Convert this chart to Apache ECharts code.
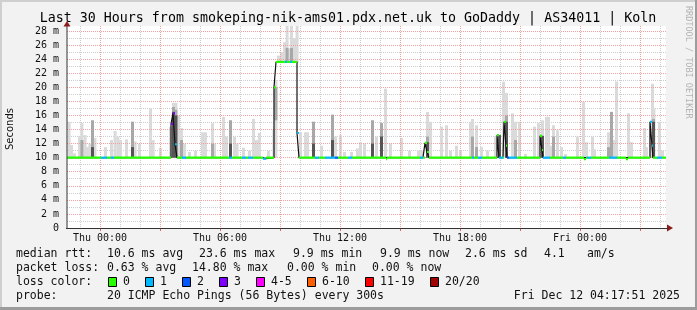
<!DOCTYPE html>
<html><head><meta charset="utf-8">
<script src="https://cdn.jsdelivr.net/npm/echarts@6/dist/echarts.min.js"></script>
<style>html,body{margin:0;padding:0;background:#f2f2f2}#c{width:697px;height:310px}</style>
</head><body><div id="c"></div>
<script>
// ---------- data (hours relative to Thu 00:00) ----------
const titleText = 'Last 30 Hours from smokeping-nik-ams01.pdx.net.uk to GoDaddy | AS34011 | Koln';
const xLabelHours = [0, 6, 12, 18, 24];
const xLabelTexts = ['Thu 00:00', 'Thu 06:00', 'Thu 12:00', 'Thu 18:00', 'Fri 00:00'];
const xMajorHours = [0, 3, 6, 9, 12, 15, 18, 21, 24, 27];
const xMinorHours = [-1, 1, 2, 4, 5, 7, 8, 10, 11, 13, 14, 16, 17, 19, 20, 22, 23, 25, 26, 28];
const yMajorMs = [0, 2, 4, 6, 8, 10, 12, 14, 16, 18, 20, 22, 24, 26, 28];
const yMinorMs = [1, 3, 5, 7, 9, 11, 13, 15, 17, 19, 21, 23, 25, 27];

// smoke columns: [hour, low ms, high ms]
const smokeLight = [
  [-1.62,10,15.1],[-1.5,10,11.8],[-1.35,10,10.6],[-1.1,10,13.0],[-0.98,10,14.9],[-0.82,10,13.2],[-0.7,10,11.5],
  [-0.58,10,12.0],[-0.45,10,15.3],[-0.33,10,12.8],[0.2,10,11.5],[0.5,10,12.5],[0.68,10,13.8],[0.82,10,13.0],
  [0.95,10,12.5],[1.25,10,12.6],[1.55,10,15.1],[1.68,10,12.3],[1.9,10,12.0],[2.45,10,17.0],[2.58,10,12.5],
  [2.95,10,11.4],[3.45,10,14.4],[3.6,10,17.8],[3.72,10,17.8],[3.85,10,16.0],[4.0,10,14.2],[4.15,10,12.0],
  [4.4,10,10.8],[4.7,10,11.0],[5.05,10,13.6],[5.2,10,13.6],[5.55,10,14.9],[5.65,10,12.0],[6.1,10,15.8],
  [6.25,10,13.0],[6.45,10,15.3],[6.65,10,13.0],[6.78,10,12.0],[7.1,10,11.4],[7.4,10,11.0],[7.6,10,15.5],
  [7.75,10,12.5],[7.9,10,13.5],[8.35,10,11.0],[8.62,10,14.0],[8.72,10,21.0],
  [8.85,23.5,24.5],[9.0,23.5,25.0],[9.15,23.5,26.4],[9.28,23.5,29],[9.4,23.5,25.5],[9.5,23.5,29],
  [9.65,23.5,27.0],[9.78,23.5,29],
  [9.95,10,13.6],[10.2,10,13.6],[10.3,10,13.6],[10.6,10,15.1],[11.0,10,11.7],[11.55,10,16.1],[11.7,10,13.0],
  [11.95,10,13.2],[12.15,10,10.8],[12.5,10,10.8],[12.8,10,11.3],[12.95,10,12.2],[13.15,10,12.0],[13.55,10,15.3],
  [13.75,10,13.0],[14.0,10,14.9],[14.2,10,19.8],[14.45,10,12.0],[15.0,10,12.8],[15.4,10,11.0],[15.85,10,11.0],
  [16.0,10,11.0],[16.3,10,16.5],[16.45,10,15.1],[17.0,10,14.4],[17.25,10,14.6],[17.45,10,11.0],[17.75,10,11.7],
  [17.95,10,11.0],[18.45,10,15.1],[18.55,10,15.5],[18.75,10,14.6],[19.0,10,11.5],[19.3,10,11.0],[19.7,10,13.0],
  [19.9,10,13.2],[20.1,10,20.8],[20.25,10,19.2],[20.55,10,16.3],[20.7,10,15.1],[20.9,10,15.1],[21.2,10,10.5],
  [21.65,10,14.4],[21.85,10,14.9],[22.05,10,15.3],[22.25,10,15.8],[22.35,10,15.8],[22.5,10,11.7],[22.6,10,14.6],
  [22.8,10,13.9],[23.0,10,11.5],[23.2,10,10.5],[23.8,10,13.0],[24.1,10,17.9],[24.25,10,12.2],[24.55,10,13.0],
  [24.65,10,11.2],[25.35,10,13.6],[25.5,10,16.5],[25.6,10,12.5],[25.75,10,20.8],[26.35,10,16.3],[26.5,10,12.2],
  [27.15,10,14.2],[27.25,10,11.5],[27.45,10,15.1],[27.55,10,20.5],[27.62,10,17.0],[27.9,10,15.1],[28.05,10,11.0]
];
const smokeMid = [
  [-0.98,10,12.5],[-0.45,10,15.3],[1.55,10,15.1],[3.6,10,17.2],[3.72,10,16.8],[4.0,10,12.5],[5.55,10,12.0],
  [6.45,10,15.3],[8.72,15.3,20.0],[9.28,23.5,25.6],[9.5,23.5,25.6],[10.6,10,15.1],[11.55,10,16.1],
  [13.55,10,15.3],[14.0,10,14.9],[16.3,10,13.0],[18.55,10,13.0],[18.75,10,11.5],[19.9,10,12.0],
  [20.25,10,16.0],[20.7,10,12.5],[22.05,10,12.0],[22.6,10,13.0],[25.35,10,11.5],[25.5,10,16.5],[27.6,10,15.5]
];
const smokeDark = [
  [-0.45,10,11.5],[1.55,10,11.5],[3.6,10,16.5],[3.72,10,16.0],[6.45,10,12.0],[10.6,10,12.0],[11.55,10,12.5],
  [13.55,10,12.0],[14.0,10,13.0],[16.3,10,12.2],[19.9,10,13.2],[20.25,10,15.1],[22.05,10,13.1],[27.6,10,15.1]
];

// median runs: [start hour, end hour, median ms, loss colour index]
const medianRuns = [
  [-1.65,0.05,10,0],[0.05,0.35,10,1],[0.35,0.55,10,0],[0.55,0.7,10,1],[0.7,3.55,10,0],
  [3.55,3.65,14.8,3],[3.65,3.75,16.3,3],[3.75,3.85,11.9,1],[3.85,4.1,10,0],[4.1,4.3,10,1],
  [4.3,6.45,10,0],[6.45,6.6,10,1],[6.6,7.1,10,0],[7.1,7.3,10,1],[7.3,7.4,10,0],[7.4,7.65,10,1],
  [7.65,8.15,10,0],[8.15,8.3,9.85,1],[8.3,8.7,10,0],[8.7,8.8,20.0,0],[8.8,9.25,23.6,0],
  [9.25,9.35,23.6,1],[9.35,9.5,23.6,0],[9.5,9.6,23.6,1],[9.6,9.85,23.6,0],[9.85,9.95,13.5,1],
  [9.95,10.75,10,0],[10.75,10.95,10,1],[10.95,11.25,10,0],[11.25,11.75,10,1],[11.75,11.9,10,2],
  [11.9,12.4,10,0],[12.4,12.6,10,1],[12.6,14.3,10,0],[14.3,14.35,9.8,0],[14.35,16.0,10,0],
  [16.0,16.15,10,1],[16.15,16.25,10,0],[16.25,16.35,12.1,0],[16.35,16.45,10.8,0],[16.45,18.6,10,0],
  [18.6,18.7,10,1],[18.7,18.9,10,0],[18.9,19.1,10,1],[19.1,19.85,10,0],[19.85,19.95,13.2,0],
  [19.95,20.15,10,1],[20.15,20.2,10,0],[20.2,20.3,15.1,0],[20.3,20.35,11.7,0],[20.35,20.45,10,2],
  [20.45,20.85,10,1],[20.85,22.0,10,0],[22.0,22.1,13.1,0],[22.1,22.15,11.1,0],[22.15,22.5,10,1],
  [22.5,23.15,10,0],[23.15,23.3,10,1],[23.3,24.2,10,0],[24.2,24.3,9.8,0],[24.3,24.35,10,0],
  [24.35,24.55,10,1],[24.55,25.45,10,0],[25.45,25.85,10,1],[25.85,26.3,10,0],[26.3,26.4,9.8,0],
  [26.4,27.5,10,0],[27.5,27.6,15.1,1],[27.6,27.65,11.7,1],[27.65,27.85,10,0],[27.85,28.1,10,1],[28.1,28.3,10,0]
];

const lossLabels = ['0', '1', '2', '3', '4-5', '6-10', '11-19', '20/20'];
const lossColors = ['#26ff00', '#00b8ff', '#0059ff', '#7e00ff', '#ff00ff', '#ff5e00', '#ff0000', '#a00000'];

const rttRow = ['median rtt:', '10.6 ms avg', '23.6 ms max', '9.9 ms min', '9.9 ms now', '2.6 ms sd', '4.1', 'am/s'];
const lossRow = ['packet loss:', '0.63 % avg', '14.80 % max', '0.00 % min', '0.00 % now'];
const probeRow = ['probe:', '20 ICMP Echo Pings (56 Bytes) every 300s', 'Fri Dec 12 04:17:51 2025'];
const watermark = 'RRDTOOL / TOBI OETIKER';

// ---------- layout ----------
const rttX = [16, 107, 199, 293, 380, 465, 544, 587];
const lossX = [16, 107, 192, 287, 372];
const boxX = [108, 145, 182, 219, 256, 307, 365, 430];
const boxLabelX = [123, 160, 197, 234, 271, 322, 380, 445];
const MONO = '"DejaVu Sans Mono", monospace';
const STEP = 0.15;

const chart = echarts.init(document.getElementById('c'), null, {renderer: 'canvas'});

function smokeRender(color) {
  return function (params, api) {
    const p0 = api.coord([api.value(0), api.value(1)]);
    const p1 = api.coord([api.value(0) + STEP, api.value(2)]);
    return {type: 'rect', shape: {x: p0[0], y: p1[1], width: p1[0] - p0[0], height: p0[1] - p1[1]},
      style: {fill: color}};
  };
}

const stepLine = [];
medianRuns.forEach(r => { stepLine.push([r[0], r[2]]); stepLine.push([r[1], r[2]]); });

const texts = [];
function txt(x, y, s, opt) {
  texts.push(Object.assign({type: 'text', x: x, y: y, silent: true,
    style: Object.assign({text: s, font: '11.5px ' + MONO, fill: '#111', textVerticalAlign: 'middle'}, opt || {})}));
}
rttRow.forEach((s, i) => txt(rttX[i], 254, s));
lossRow.forEach((s, i) => txt(lossX[i], 268, s));
txt(16, 282, 'loss color:');
lossLabels.forEach((s, i) => {
  texts.push({type: 'rect', shape: {x: boxX[i] + 0.5, y: 277.5, width: 8, height: 9},
    style: {fill: lossColors[i], stroke: '#000', lineWidth: 1}});
  txt(boxLabelX[i], 282, s);
});
txt(16, 296, probeRow[0]);
txt(107, 296, probeRow[1]);
txt(680, 296, probeRow[2], {textAlign: 'right'});
txt(348, 19, titleText, {font: '13.3px ' + MONO, textAlign: 'center', fill: '#000'});
texts.push({type: 'text', x: 10, y: 129, rotation: Math.PI / 2, silent: true,
  style: {text: 'Seconds', font: '10px "DejaVu Sans"', fill: '#111', textAlign: 'center', textVerticalAlign: 'middle'}});
texts.push({type: 'text', x: 688, y: 6, rotation: -Math.PI / 2, silent: true,
  style: {text: watermark, font: '8.5px ' + MONO, fill: '#b4b4b4', textAlign: 'left', textVerticalAlign: 'middle'}});
// frame and axis arrows
texts.push({type: 'rect', shape: {x: 0, y: 0, width: 697, height: 2}, style: {fill: '#cfcfcf'}});
texts.push({type: 'rect', shape: {x: 0, y: 0, width: 2, height: 310}, style: {fill: '#cfcfcf'}});
texts.push({type: 'rect', shape: {x: 0, y: 307, width: 697, height: 3}, style: {fill: '#9c9c9c'}});
texts.push({type: 'rect', shape: {x: 695, y: 0, width: 2, height: 310}, style: {fill: '#9c9c9c'}});
texts.push({type: 'polygon', shape: {points: [[67, 21], [63.5, 26.5], [70.5, 26.5]]}, style: {fill: '#8c1c1c'}});
texts.push({type: 'polygon', shape: {points: [[673, 228], [667, 224.5], [667, 231.5]]}, style: {fill: '#8c1c1c'}});
texts.push({type: 'line', shape: {x1: 67, y1: 26, x2: 67, y2: 228}, style: {stroke: '#333', lineWidth: 1}, z: 100});
texts.push({type: 'line', shape: {x1: 66, y1: 228.5, x2: 668, y2: 228.5}, style: {stroke: '#333', lineWidth: 1}, z: 100});

const redGrid = {show: true, lineStyle: {color: '#f2a0a0', type: [1, 1], width: 1}};
const greyGrid = {show: true, lineStyle: {color: '#cccccc', type: [1, 1], width: 1}};

chart.setOption({
  animation: false,
  backgroundColor: '#f2f2f2',
  grid: {left: 67, top: 26, width: 599, height: 202, show: true, backgroundColor: '#ffffff', borderWidth: 0},
  xAxis: [
    {type: 'value', min: -1.65, max: 28.3, z: 3,
      axisLine: {show: false},
      axisTick: {show: true, customValues: xMajorHours, length: 3, lineStyle: {color: '#e06060'}},
      axisLabel: {customValues: xLabelHours, margin: 5, color: '#111', fontFamily: 'DejaVu Sans Mono', fontSize: 10,
        formatter: v => xLabelTexts[xLabelHours.indexOf(v)] || ''},
      splitLine: redGrid},
    {type: 'value', min: -1.65, max: 28.3, position: 'bottom', z: 2,
      axisLine: {show: false}, axisTick: {show: false, customValues: xMinorHours},
      axisLabel: {show: false, customValues: xMinorHours}, splitLine: greyGrid}
  ],
  yAxis: [
    {type: 'value', min: 0, max: 28.71, z: 3,
      axisLine: {show: false},
      axisTick: {show: false, customValues: yMajorMs},
      axisLabel: {customValues: yMajorMs, margin: 8, color: '#111', fontFamily: 'DejaVu Sans Mono', fontSize: 10,
        formatter: v => v === 0 ? '0' : v + ' m'},
      splitLine: redGrid},
    {type: 'value', min: 0, max: 28.71, position: 'left', z: 2,
      axisLine: {show: false}, axisTick: {show: false, customValues: yMinorMs},
      axisLabel: {show: false, customValues: yMinorMs}, splitLine: greyGrid}
  ],
  series: [
    {type: 'custom', name: 'smokeLight', clip: true, data: smokeLight, renderItem: smokeRender('#dadada'),
      encode: {x: 0, y: [1, 2]}, z: 2},
    {type: 'custom', name: 'smokeMid', clip: true, data: smokeMid, renderItem: smokeRender('#a8a8a8'),
      encode: {x: 0, y: [1, 2]}, z: 3},
    {type: 'custom', name: 'smokeDark', clip: true, data: smokeDark, renderItem: smokeRender('#555555'),
      encode: {x: 0, y: [1, 2]}, z: 4},
    {type: 'line', name: 'medianStep', data: stepLine, showSymbol: false, symbol: 'none', z: 5,
      lineStyle: {color: '#111', width: 1.2}},
    {type: 'custom', name: 'median', clip: true, data: medianRuns, z: 6,
      encode: {x: [0, 1], y: 2},
      renderItem: function (params, api) {
        const a = api.coord([api.value(0), api.value(2)]);
        const b = api.coord([api.value(1), api.value(2)]);
        return {type: 'line', shape: {x1: a[0], y1: a[1], x2: b[0], y2: b[1]},
          style: {stroke: lossColors[api.value(3)], lineWidth: 2.2}};
      }}
  ],
  graphic: texts
});
</script></body></html>
